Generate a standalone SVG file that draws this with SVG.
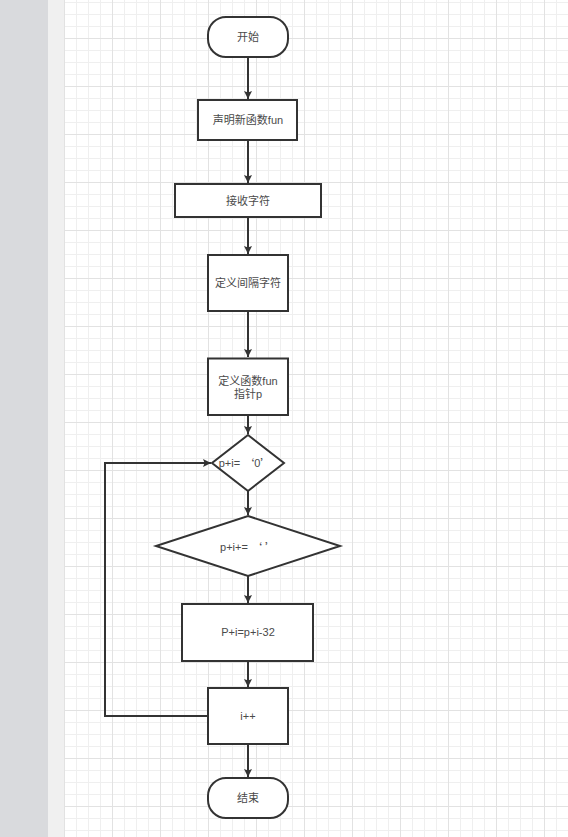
<svg xmlns="http://www.w3.org/2000/svg" width="568" height="837" viewBox="0 0 568 837">
<defs>
<pattern id="minor" patternUnits="userSpaceOnUse" x="64" y="2" width="12" height="12">
<path d="M0.5 0V12M0 0.5H12" stroke="#efefef" stroke-width="1" fill="none"/>
</pattern>
<pattern id="major" patternUnits="userSpaceOnUse" x="64" y="38" width="48" height="48">
<path d="M0.5 0V48M0 0.5H48" stroke="#e2e2e2" stroke-width="1" fill="none"/>
</pattern>
<marker id="arr" viewBox="0 0 10 10" refX="10" refY="5" markerWidth="12" markerHeight="8" markerUnits="userSpaceOnUse" orient="auto">
<path d="M0 0L10 5L0 10L2 5Z" fill="#333"/>
</marker>
<style>
.s{fill:#fff;stroke:#333;stroke-width:2}
.t{font-family:"Liberation Sans","Noto Sans CJK SC",sans-serif;font-size:11px;fill:#4a4a4a;text-anchor:middle;dominant-baseline:central}
.q{font-family:"Noto Sans CJK SC",sans-serif}
.c{fill:none;stroke:#333;stroke-width:2}
</style>
</defs>
<rect x="0" y="0" width="48" height="837" fill="#d9dadd"/>
<rect x="48" y="0" width="16" height="837" fill="#f0f0f0"/>
<rect x="64" y="0" width="504" height="837" fill="#fff"/>
<rect x="64" y="0" width="504" height="837" fill="url(#minor)"/>
<rect x="64" y="0" width="504" height="837" fill="url(#major)"/>
<g id="connectors">
<path class="c" d="M248 57V99" marker-end="url(#arr)"/>
<path class="c" d="M248 140V183" marker-end="url(#arr)"/>
<path class="c" d="M248 217V254" marker-end="url(#arr)"/>
<path class="c" d="M248 311V357" marker-end="url(#arr)"/>
<path class="c" d="M248 415V434" marker-end="url(#arr)"/>
<path class="c" d="M248 491V515" marker-end="url(#arr)"/>
<path class="c" d="M248 576V603" marker-end="url(#arr)"/>
<path class="c" d="M248 661V687" marker-end="url(#arr)"/>
<path class="c" d="M248 744V777" marker-end="url(#arr)"/>
<path class="c" d="M208 716H105V463H211" marker-end="url(#arr)"/>
</g>
<g id="start"><rect class="s" x="208" y="17" width="80" height="40" rx="18"/><text class="t" x="248" y="37">开始</text></g>
<g id="declare"><rect class="s" x="198" y="100" width="99" height="40"/><text class="t" x="248" y="120">声明新函数fun</text></g>
<g id="receive"><rect class="s" x="175" y="184" width="146" height="33"/><text class="t" x="248" y="200.5">接收字符</text></g>
<g id="defsep"><rect class="s" x="208" y="255" width="80" height="56"/><text class="t" x="248" y="283">定义间隔字符</text></g>
<g id="defptr"><rect class="s" x="208" y="358.5" width="80" height="56.5"/><text class="t" x="248" y="381">定义函数fun</text><text class="t" x="248" y="394">指针p</text></g>
<g id="cond1"><path class="s" d="M248 435L284 463L248 491L212 463Z"/><text class="t" x="245" y="463">p+i= <tspan class="q">‘</tspan>0<tspan class="q">’</tspan></text></g>
<g id="cond2"><path class="s" d="M248 516L340 546L248 576L156 546Z"/><text class="t" x="248" y="547">p+i+= <tspan class="q">‘</tspan> <tspan class="q">’</tspan></text></g>
<g id="conv"><rect class="s" x="182" y="604" width="131" height="57"/><text class="t" x="248" y="632">P+i=p+i-32</text></g>
<g id="inc"><rect class="s" x="208" y="688" width="80" height="56"/><text class="t" x="248" y="716">i++</text></g>
<g id="end"><rect class="s" x="208" y="778" width="80" height="40" rx="18"/><text class="t" x="248" y="798">结束</text></g>
</svg>
